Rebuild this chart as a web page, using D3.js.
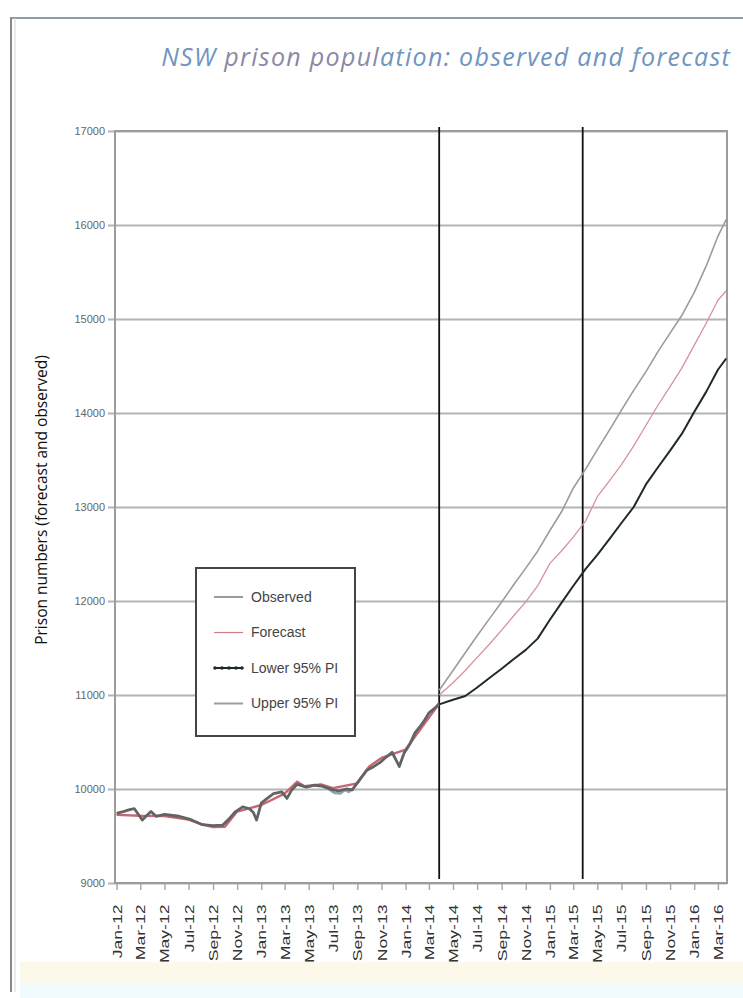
<!DOCTYPE html>
<html>
<head>
<meta charset="utf-8">
<script src="https://cdn.jsdelivr.net/npm/d3@7"></script>
<style>
  body { margin: 0; background: #fff; }
  svg { display: block; }
  .narrow { font-family: "Liberation Sans Narrow", "DejaVu Sans Condensed", sans-serif; }
</style>
</head>
<body>
<div id="chart"></div>
<script>
// Observed weekly-ish prison numbers
const observedDates = ['2012-01-01','2012-01-18','2012-02-03','2012-02-15','2012-03-06','2012-03-18','2012-03-28','2012-04-10',
  '2012-05-01','2012-06-07','2012-07-03','2012-08-05','2012-09-01','2012-09-25','2012-10-13','2012-10-28','2012-11-15',
  '2012-12-02','2012-12-12','2012-12-20','2013-01-01','2013-01-16','2013-02-01','2013-02-22','2013-03-07','2013-03-19',
  '2013-04-02','2013-04-25','2013-05-16','2013-06-04','2013-07-01','2013-07-16','2013-08-04','2013-08-19','2013-09-07',
  '2013-09-25','2013-10-13','2013-10-28','2013-11-13','2013-11-28','2013-12-09','2013-12-16','2013-12-28','2014-01-12',
  '2014-01-25','2014-02-06','2014-02-19','2014-03-01','2014-03-19','2014-03-27'];
const observedValues = [9740, 9760, 9780, 9790, 9670, 9720, 9760, 9710,
  9730, 9710, 9680, 9620, 9610, 9615, 9690, 9760, 9810,
  9790, 9750, 9670, 9850, 9900, 9950, 9970, 9900, 9990,
  10050, 10020, 10040, 10030, 9990, 9980, 10000, 9990, 10100,
  10200, 10240, 10280, 10340, 10390, 10300, 10240, 10380, 10480,
  10600, 10660, 10740, 10810, 10870, 10910];

// in-sample fitted values (show as red / blue slivers under the observed line)
const fitDates = ['2012-01-01','2012-03-01','2012-05-01','2012-07-01','2012-08-01','2012-09-01','2012-10-01','2012-11-01',
  '2013-01-01','2013-03-01','2013-04-02','2013-04-20','2013-06-01','2013-07-01','2013-09-01','2013-10-01','2013-11-01',
  '2014-01-01','2014-03-27'];
const fitValues = [9725, 9715, 9712, 9675, 9628, 9595, 9598, 9760,
  9830, 9950, 10078, 10030, 10048, 10010, 10060, 10240, 10330,
  10420, 10910];
const fitLowDates = ['2013-06-20','2013-07-05','2013-07-20','2013-08-01','2013-08-10','2013-08-20'];
const fitLowValues = [10000, 9958, 9952, 9990, 9968, 10000];

// Forecast period, monthly
const forecastDates = ['2014-03-27','2014-05-01','2014-06-01','2014-07-01','2014-08-01','2014-09-01','2014-10-01',
  '2014-11-01','2014-12-01','2015-01-01','2015-02-01','2015-03-01','2015-04-01','2015-05-01','2015-06-01','2015-07-01',
  '2015-08-01','2015-09-01','2015-10-01','2015-11-01','2015-12-01','2016-01-01','2016-02-01','2016-03-01','2016-03-22'];
const forecastValues = [11000, 11130, 11260, 11400, 11540, 11690, 11840, 11990, 12160, 12400, 12540, 12680, 12850,
  13110, 13280, 13450, 13650, 13870, 14080, 14280, 14480, 14720, 14960, 15200, 15300];
const lowerValues = [10900, 10950, 10990, 11080, 11180, 11280, 11380, 11480, 11600, 11800, 11990, 12160, 12340,
  12490, 12660, 12830, 13000, 13240, 13420, 13600, 13780, 14010, 14230, 14460, 14580];
const upperValues = [11050, 11260, 11450, 11630, 11810, 11990, 12170, 12350, 12530, 12750, 12960, 13200, 13400,
  13610, 13820, 14030, 14240, 14440, 14650, 14850, 15040, 15280, 15570, 15880, 16060];

// vertical markers (forecast origin, one year on)
const markerDates = ['2014-03-27', '2015-03-25'];

const yTicks = [9000, 10000, 11000, 12000, 13000, 14000, 15000, 16000, 17000];
const legendLabels = ['Observed', 'Forecast', 'Lower 95% PI', 'Upper 95% PI'];

const parse = d3.timeParse('%Y-%m-%d');
const zip = (dates, vals) => dates.map((d, i) => ({date: parse(d), value: vals[i]}));

class PrisonChart {
  constructor(_config) {
    this.config = {
      parentElement: _config.parentElement,
      containerWidth: 743,
      containerHeight: 998,
      margin: {top: 131, right: 16, bottom: 115, left: 115}
    };
    this.initVis();
  }

  initVis() {
    let vis = this;
    vis.width = vis.config.containerWidth - vis.config.margin.left - vis.config.margin.right;
    vis.height = vis.config.containerHeight - vis.config.margin.top - vis.config.margin.bottom;

    vis.xScale = d3.scaleTime()
      .domain([parse('2011-12-28'), parse('2016-03-24')])
      .range([0, vis.width]);
    vis.yScale = d3.scaleLinear()
      .domain([9000, 17000])
      .range([vis.height, 0]);

    vis.svg = d3.select(vis.config.parentElement).append('svg')
      .attr('width', vis.config.containerWidth)
      .attr('height', vis.config.containerHeight);

    // scanned page frame
    vis.svg.append('rect').attr('x', 20).attr('y', 962).attr('width', 723).attr('height', 22).attr('fill', '#fdf9ea');
    vis.svg.append('rect').attr('x', 20).attr('y', 984).attr('width', 723).attr('height', 14).attr('fill', '#f1fafc');
    vis.svg.append('line').attr('x1', 10).attr('x2', 743).attr('y1', 18).attr('y2', 18)
      .attr('stroke', '#8e9aae').attr('stroke-width', 2);
    vis.svg.append('line').attr('x1', 11).attr('x2', 11).attr('y1', 18).attr('y2', 992)
      .attr('stroke', '#8a8a8a').attr('stroke-width', 2);
    vis.svg.append('line').attr('x1', 15).attr('x2', 15).attr('y1', 18).attr('y2', 992)
      .attr('stroke', '#d8d8d8').attr('stroke-width', 1);

    // title
    const title = vis.svg.append('text')
      .attr('x', 731).attr('y', 66)
      .attr('text-anchor', 'end')
      .attr('font-family', '"Open Sans", "Noto Sans", sans-serif')
      .attr('font-style', 'italic')
      .attr('font-size', 25)
      .attr('letter-spacing', 1.3)
      .attr('fill', '#6f95c0');
    title.append('tspan').text('NSW ');
    title.append('tspan').attr('fill', '#8a88a6').text('prison popul');
    title.append('tspan').text('ation: observed and forecast');

    // y axis title
    vis.svg.append('text')
      .attr('transform', 'translate(47,500) rotate(-90)')
      .attr('text-anchor', 'middle')
      .attr('font-family', '"Open Sans", "Noto Sans", sans-serif')
      .attr('font-size', 15.5)
      .attr('fill', '#111')
      .text('Prison numbers (forecast and observed)');

    vis.chart = vis.svg.append('g')
      .attr('transform', `translate(${vis.config.margin.left},${vis.config.margin.top})`);

    vis.xAxis = d3.axisBottom(vis.xScale)
      .ticks(d3.timeMonth.every(2))
      .tickSize(7)
      .tickPadding(4)
      .tickFormat(d3.timeFormat('%b-%y'));
    vis.yAxis = d3.axisLeft(vis.yScale)
      .tickValues(yTicks)
      .tickSize(-vis.width)
      .tickPadding(10)
      .tickFormat(d3.format('d'));

    vis.line = d3.line()
      .x(d => vis.xScale(d.date))
      .y(d => vis.yScale(d.value));

    vis.renderVis();
  }

  renderVis() {
    let vis = this;

    // gridlines + y labels
    const yG = vis.chart.append('g').attr('class', 'narrow').call(vis.yAxis);
    yG.select('.domain').remove();
    yG.selectAll('.tick line').attr('stroke', '#b4b4b4').attr('stroke-width', 2).attr('x1', -7);
    yG.selectAll('.tick text').attr('font-size', 11).attr('fill', '#666')
      .attr('font-family', '"Liberation Sans Narrow", sans-serif');

    // x axis with rotated, stretched month labels
    const xG = vis.chart.append('g')
      .attr('transform', `translate(0,${vis.height})`)
      .call(vis.xAxis);
    xG.select('.domain').remove();
    xG.selectAll('.tick line').attr('stroke', '#aaa').attr('stroke-width', 1.5);
    xG.selectAll('.tick text')
      .attr('font-family', '"Liberation Sans Narrow", sans-serif')
      .attr('font-size', 13)
      .attr('fill', '#333')
      .attr('text-anchor', 'end')
      .attr('transform', 'rotate(-90) scale(1.35,1)')
      .attr('x', -16).attr('y', 0).attr('dy', '0.35em');

    // plot frame
    vis.chart.append('rect')
      .attr('width', vis.width).attr('height', vis.height)
      .attr('fill', 'none').attr('stroke', '#9c9c9c').attr('stroke-width', 2);

    // vertical markers
    vis.chart.selectAll('.marker')
      .data(markerDates.map(parse))
      .join('line')
      .attr('class', 'marker')
      .attr('x1', d => vis.xScale(d)).attr('x2', d => vis.xScale(d))
      .attr('y1', -4).attr('y2', vis.height - 4)
      .attr('stroke', '#111').attr('stroke-width', 1.8);

    const series = [
      {data: zip(fitDates, fitValues), stroke: '#c56673', width: 2.4},
      {data: zip(fitLowDates, fitLowValues), stroke: '#8ea3b4', width: 2.4},
      {data: zip(observedDates, observedValues), stroke: '#636363', width: 2.8},
      {data: zip(forecastDates, upperValues), stroke: '#9c9c9c', width: 1.6},
      {data: zip(forecastDates, forecastValues), stroke: '#d7929c', width: 1.3},
      {data: zip(forecastDates, lowerValues), stroke: '#1e2a2a', width: 2}
    ];
    vis.chart.selectAll('.series')
      .data(series)
      .join('path')
      .attr('class', 'series')
      .attr('d', d => vis.line(d.data))
      .attr('fill', 'none')
      .attr('stroke', d => d.stroke)
      .attr('stroke-width', d => d.width)
      .attr('stroke-linejoin', 'round');

    vis.renderLegend();
  }

  renderLegend() {
    let vis = this;
    const legend = vis.svg.append('g').attr('transform', 'translate(196,568)');
    legend.append('rect')
      .attr('width', 159).attr('height', 168)
      .attr('fill', '#fff').attr('stroke', '#444').attr('stroke-width', 2);

    const styles = [
      {stroke: '#9a9a9a', width: 2},
      {stroke: '#d07a86', width: 1.2},
      {stroke: '#1e2a2a', width: 2},
      {stroke: '#9c9c9c', width: 2}
    ];
    const items = legend.selectAll('.item')
      .data(legendLabels)
      .join('g')
      .attr('class', 'item')
      .attr('transform', (d, i) => `translate(0,${29 + i * 35.5})`);
    items.append('line')
      .attr('x1', 18).attr('x2', 47)
      .attr('stroke', (d, i) => styles[i].stroke)
      .attr('stroke-width', (d, i) => styles[i].width);
    items.filter((d, i) => i === 2).selectAll('circle')
      .data([19, 26, 33, 40, 46])
      .join('circle')
      .attr('cx', d => d).attr('r', 1.8).attr('fill', '#1e2a2a');
    items.append('text')
      .attr('x', 55).attr('dy', '0.35em')
      .attr('font-family', '"Liberation Sans Narrow", sans-serif')
      .attr('font-size', 14)
      .attr('fill', '#444')
      .text(d => d);
  }
}

new PrisonChart({parentElement: '#chart'});
</script>
</body>
</html>
